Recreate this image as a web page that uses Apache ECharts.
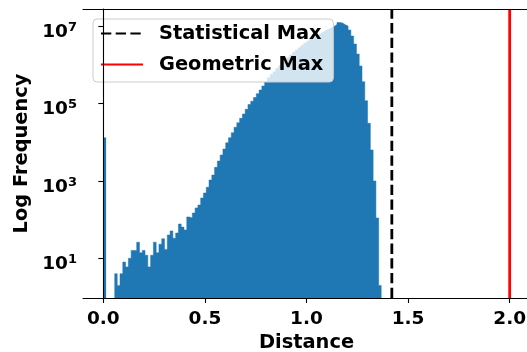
<!DOCTYPE html>
<html><head><meta charset="utf-8">
<script src="https://cdn.jsdelivr.net/npm/echarts@6/dist/echarts.min.js"></script>
<style>html,body{margin:0;padding:0;background:#fff}#c{width:527px;height:352px}</style>
</head><body><div id="c"></div>
<script>
// Histogram bin range and counts (one value per bin, null = empty bin)
const binStart = 0;
const binEnd = 1.369;
const counts = [
  13000, null, null, null, 4, 2, 4, 8, 6, 10,
  16, 16, 26, 14, 16, 12, 6, 12, 26, 14,
  23, 32, 17, 40, 51, 33, 45, 77, 64, 54,
  117, 110, 148, 200, 238, 361, 486, 683, 1054, 1419,
  2244, 3260, 4660, 6655, 9680, 13030, 17550, 24200, 31800, 41300,
  53400, 70600, 94000, 114300, 142300, 178500, 222400, 282000, 364000, 462000,
  566000, 660000, 809000, 944000, 1127000, 1324000, 1556000, 1783000, 2094000, 2400000,
  2750000, 3150000, 3600000, 4070000, 4590000, 5140000, 5720000, 6330000, 6960000, 7600000,
  8270000, 8930000, 9770000, 10900000, 12300000, 12000000, 10800000, 10000000, 7890000, 5520000,
  3430000, 1890000, 927000, 364000, 117800, 30700, 6280, 993, 110, 2
];
const statisticalMax = 1.42;
const geometricMax = 2.0;
const xTicks = [0, 0.5, 1.0, 1.5, 2.0];
const yTicks = [10, 1000, 100000, 10000000];
const xRange = [-0.1, 2.1];
const yRange = [0.944, 2.75e7];
const seriesNames = ['Statistical Max', 'Geometric Max'];
const axisNames = {x: 'Distance', y: 'Log Frequency'};

const FONT = 'DejaVu Sans';
const BAR = '#1f77b4';
const binWidth = (binEnd - binStart) / counts.length;

// Staircase outline of the histogram: each bin holds its count from its left edge
// to the next edge; empty bins break the outline.
const stepData = [];
counts.forEach((c, i) => {
  const left = binStart + i * binWidth;
  if (c == null) {
    if (i > 0 && counts[i - 1] != null) stepData.push([left, counts[i - 1]]);
    stepData.push([left, '-']);
  } else {
    stepData.push([left, c]);
  }
});
stepData.push([binEnd, counts[counts.length - 1]]);

const chart = echarts.init(document.getElementById('c'), null, {renderer: 'canvas'});
chart.setOption({
  animation: false,
  grid: {left: 83, right: -3, top: 9, bottom: 54, containLabel: false, outerBoundsMode: 'none'},
  xAxis: [{
    type: 'value', min: xRange[0], max: xRange[1],
    axisLine: {show: true, onZero: false, lineStyle: {color: '#000', width: 1.1}},
    axisTick: {show: true, length: 5, customValues: xTicks, lineStyle: {color: '#000', width: 1.1}},
    axisLabel: {customValues: xTicks, formatter: v => v.toFixed(1), fontFamily: FONT, fontWeight: 'bold', fontSize: 18.5, color: '#000', margin: 12},
    splitLine: {show: false}, minorSplitLine: {show: false}, splitArea: {show: false},
    name: axisNames.x, nameLocation: 'middle', nameGap: 34,
    nameTextStyle: {fontFamily: FONT, fontWeight: 'bold', fontSize: 19.4, color: '#000'},
    z: 10
  }, {
    type: 'value', position: 'top', min: xRange[0], max: xRange[1],
    axisLine: {show: true, onZero: false, lineStyle: {color: '#000', width: 1.1}},
    axisTick: {show: false}, axisLabel: {show: false}, splitLine: {show: false}, splitArea: {show: false}, z: 10
  }],
  yAxis: {
    type: 'log', logBase: 10, min: yRange[0], max: yRange[1],
    axisLine: {show: true, lineStyle: {color: '#000', width: 1.1}},
    axisTick: {show: true, length: 5, customValues: yTicks, lineStyle: {color: '#000', width: 1.1}},
    axisLabel: {
      customValues: yTicks, margin: 6, padding: [12, 0, 0, 0],
      formatter: v => '{b|10}{s|' + Math.round(Math.log10(v)) + '}',
      rich: {
        b: {fontFamily: FONT, fontWeight: 'bold', fontSize: 18.5, color: '#000'},
        s: {fontFamily: FONT, fontWeight: 'bold', fontSize: 13, color: '#000', padding: [0, 0, 9, 0]}
      }
    },
    splitLine: {show: false}, minorTick: {show: false}, splitArea: {show: false},
    name: axisNames.y, nameLocation: 'middle', nameGap: 52, nameRotate: 90,
    nameTextStyle: {fontFamily: FONT, fontWeight: 'bold', fontSize: 19.4, color: '#000'},
    z: 10
  },
  legend: {
    data: seriesNames.map(n => ({name: n, itemStyle: {opacity: 0}})),
    orient: 'vertical', left: 93, top: 19,
    padding: [5, 10, 8, 7], itemWidth: 42, itemHeight: 14, itemGap: 12,
    backgroundColor: 'rgba(255,255,255,0.8)', borderColor: '#cccccc', borderWidth: 1, borderRadius: 4,
    textStyle: {fontFamily: FONT, fontWeight: 'bold', fontSize: 19.4, color: '#000', padding: [0, 0, 0, 11]},
    selectedMode: false
  },
  series: [
    {type: 'line', name: 'hist', data: stepData, step: 'end', connectNulls: false,
     symbol: 'none', showSymbol: false,
     lineStyle: {color: BAR, width: 0.5}, itemStyle: {color: BAR},
     areaStyle: {color: BAR, opacity: 1, origin: 'start'}, z: 2, clip: true},
    {type: 'line', name: seriesNames[0], data: [[statisticalMax, yRange[0]], [statisticalMax, yRange[1]]],
     symbol: 'none', showSymbol: false, lineStyle: {color: '#000', width: 2.8, type: [10.3, 4.4]}, itemStyle: {color: '#000'}, z: 3},
    {type: 'line', name: seriesNames[1], data: [[geometricMax, yRange[0]], [geometricMax, yRange[1]]],
     symbol: 'none', showSymbol: false, lineStyle: {color: '#ff0000', width: 2.8}, itemStyle: {color: '#ff0000'}, z: 3}
  ]
});
</script>
</body></html>
